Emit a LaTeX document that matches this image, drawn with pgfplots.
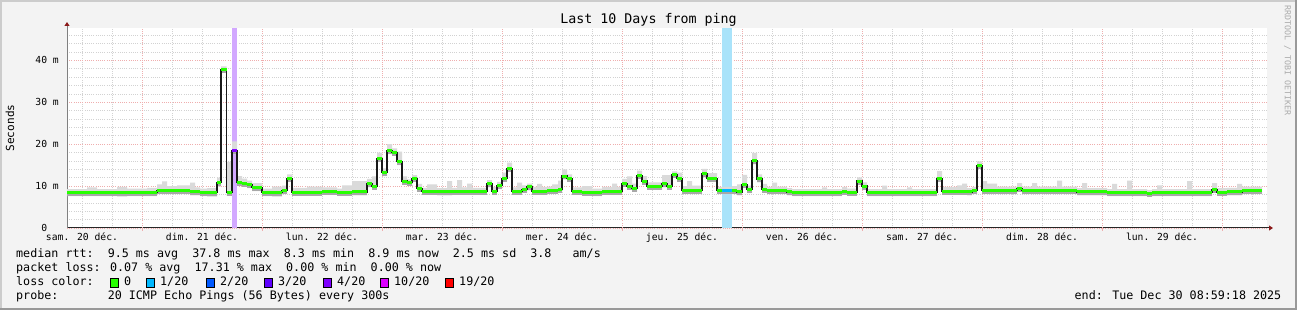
\documentclass[border=0pt]{standalone}
\usepackage{fontspec}
\setmainfont{DejaVu Sans Mono}
\usepackage{pgfplots}
\pgfplotsset{compat=1.18}
\usepackage{pgfplotstable}
\usetikzlibrary{arrows.meta}

\definecolor{backc}{HTML}{F3F3F3}
\definecolor{gridc}{HTML}{D2D2D2}
\definecolor{mgridc}{HTML}{EFAEAE}
\definecolor{smokec}{HTML}{DADADA}
\definecolor{smokedark}{HTML}{A8A8A8}
\definecolor{lgreen}{HTML}{26FF00}
\definecolor{lcyan}{HTML}{00B8FF}
\definecolor{lblue}{HTML}{0059FF}
\definecolor{lpurple}{HTML}{5E00FF}
\definecolor{lviolet}{HTML}{7E00FF}
\definecolor{lmagenta}{HTML}{DD00FF}
\definecolor{lred}{HTML}{FF0000}
\definecolor{bandpurple}{HTML}{D2A8FF}
\definecolor{bandblue}{HTML}{A9E3FA}
\definecolor{arrowc}{HTML}{8B1A1A}
\definecolor{wmark}{HTML}{ABABAB}
\newcommand\fs[1]{\fontsize{#1}{#1}\selectfont}

% median rtt (hours since start, ms)
\pgfplotstableread{
h med
0 8.4
18 9.0
24.6 8.7
26.6 8.4
30 10.8
30.8 37.8
31.9 8.5
33 18.5
34 10.9
35 10.7
36 10.3
37 9.6
39 8.4
43 8.9
44 11.9
45 8.5
51 8.7
54 8.5
57 8.6
60 10.5
61 10.0
62 16.6
63 13.2
64 18.4
65 18.1
66 15.8
67 11.2
68 10.9
69 11.8
70 9.5
71 8.8
74 8.6
77 8.7
84 10.5
85 8.8
86 10.1
87 11.8
88 14.2
89 8.8
91 9.2
92 9.8
93 8.8
96 8.9
98.2 9.2
99 12.4
100 11.9
101 8.8
103 8.5
105 8.4
107 8.8
111 10.7
112 10.0
113 9.5
114 12.5
115 11.2
116 9.9
119 10.5
120 10.0
121 12.8
122 11.9
123 8.9
127 12.9
128 11.9
130 8.9
133 8.9
134 8.6
135 10.3
136 9.1
137 16.0
138 11.7
139 9.2
140 8.9
144 8.6
145 8.4
155 8.8
156 8.5
158 11.2
159 10.0
160 8.4
174 11.9
175 8.8
180 8.6
181 8.9
182 15.0
183 8.9
190 9.4
191 8.9
202 8.6
208 8.4
216 8.2
217 8.4
229 9.2
230 8.5
232 8.6
235 8.9
239 8.9
}\med

% smoke (spread of the 20 pings): h lo hi
\pgfplotstableread{
h lo hi
0 7.6 9.3
4 7.6 9.7
6 7.6 9.3
10 7.5 9.8
12 7.6 9.4
16 7.6 9.6
18 8.1 10.4
19 8.1 11.1
20 8.1 10.0
22 8.1 10.2
24.6 7.8 10.8
25.6 7.8 9.7
26.6 7.6 9.4
28 7.5 9.5
30 9.9 12.0
30.8 37.0 38.6
31.9 7.7 15.8
33 17.6 20.7
34 10.1 12.4
35 9.9 11.8
36 9.5 11.3
37 8.8 10.7
39 7.6 9.4
41 7.5 9.9
43 8.1 10.1
44 11.1 12.8
45 7.7 9.6
48 7.7 9.9
51 7.9 9.7
54 7.7 9.4
55 7.7 10.2
57 7.8 11.2
60 9.7 11.7
61 9.2 12.3
62 15.8 18.0
63 12.4 14.2
64 17.6 20.0
65 17.3 19.0
66 15.0 18.2
67 10.4 12.3
68 10.1 11.6
69 11.0 12.6
70 8.7 10.5
71 8.0 9.6
72 8.0 10.4
74 7.8 9.5
76 7.8 11.2
77 7.9 9.6
78 7.9 11.4
79 7.9 9.7
80 7.9 10.6
81 7.9 9.6
84 9.7 11.4
85 8.0 9.8
86 9.3 11.0
87 11.0 13.2
88 13.4 15.6
89 8.0 9.7
90 8.0 10.8
91 8.4 10.2
92 9.0 10.6
93 8.0 9.8
94 8.0 10.5
95 8.0 9.8
96 8.1 9.9
97 8.1 10.4
98.2 8.4 11.3
99 11.6 14.0
100 11.1 12.8
101 8.0 9.7
103 7.7 10.0
105 7.6 9.4
107 8.0 9.8
109 8.0 10.6
110 8.0 9.8
111 9.9 11.7
112 9.2 12.3
113 8.7 10.6
114 11.7 13.7
115 10.4 12.4
116 9.1 10.9
119 9.7 12.6
120 9.2 12.6
121 12.0 13.5
122 11.1 13.2
123 8.1 10.0
124 8.1 11.2
125 8.1 10.1
127 12.1 14.1
128 11.1 13.1
130 8.1 9.8
133 8.1 10.0
134 7.8 10.4
135 9.5 12.7
136 8.3 10.1
137 15.2 17.9
138 10.9 12.8
139 8.4 10.5
140 8.1 9.8
141 8.1 10.8
142 8.1 9.9
144 7.8 9.5
145 7.6 9.3
151 7.6 9.7
152 7.6 9.3
155 8.0 9.8
156 7.7 9.4
158 10.4 12.1
159 9.2 10.9
160 7.6 9.3
163 7.6 10.1
164 7.6 9.3
168 7.6 9.7
169 7.6 9.3
174 11.1 13.6
175 8.0 9.8
178 8.0 10.2
179 8.0 10.6
180 7.8 9.5
181 8.1 9.8
182 14.2 15.9
183 8.1 11.2
184 8.1 10.6
186 8.1 9.9
190 8.6 10.7
191 8.1 9.9
193 8.1 10.7
194 8.1 9.9
198 8.1 11.3
199 8.1 9.9
202 7.8 9.5
203 7.8 10.7
204 7.8 9.5
208 7.6 9.3
209 7.6 10.5
210 7.6 9.3
212 7.6 11.3
213 7.6 9.3
216 7.4 9.1
217 7.6 9.3
218 7.6 10.2
219 7.6 9.3
224 7.6 11.2
225 7.6 9.3
229 8.4 10.7
230 7.7 9.5
232 7.8 9.6
234 7.8 10.5
235 8.1 9.9
239 8.1 9.9
}\smoke

\begin{document}
\begin{tikzpicture}[x=1pt,y=1pt]
% frame
\fill[backc] (0,0) rectangle (1297,310);
\fill[black!20] (0,308) rectangle (1297,310);
\fill[black!20] (0,0) rectangle (2,310);
\fill[black!40] (1295,0) rectangle (1297,310);
\fill[black!40] (0,0) rectangle (1297,2);

\begin{axis}[
  at={(67pt,82pt)}, anchor=south west,
  scale only axis, width=1200pt, height=200pt,
  xmin=0, xmax=240, ymin=0, ymax=47.73,
  axis background/.style={fill=white},
  axis x line*=bottom, axis y line*=left,
  x axis line style={draw=black!85, line width=1pt, -{Triangle[length=4pt,width=5pt,color=arrowc]}, shorten >=-6pt},
  y axis line style={draw=black!50, line width=1pt, -{Triangle[length=4pt,width=5pt,color=arrowc]}, shorten >=-6pt},
  major tick length=0pt, minor tick length=0pt,
  xtick={3,27,51,75,99,123,147,171,195,219},
  xticklabels={sam. 20 déc., dim. 21 déc., lun. 22 déc., mar. 23 déc., mer. 24 déc., jeu. 25 déc., ven. 26 déc., sam. 27 déc., dim. 28 déc., lun. 29 déc.},
  xmajorgrids=false,
  minor xtick={3,9,21,27,33,45,51,57,69,75,81,93,99,105,117,123,129,141,147,153,165,171,177,189,195,201,213,219,225,237},
  xminorgrids=true,
  extra x ticks={15,39,63,87,111,135,159,183,207,231},
  extra x tick labels={},
  extra x tick style={grid=major, major tick length=3pt, tick align=outside, tick style={draw=mgridc, line width=0.8pt}},
  ytick={0,10,20,30,40},
  yticklabels={0\phantom{~m},10~m,20~m,30~m,40~m},
  ymajorgrids=true,
  minor ytick={2,4,6,8,12,14,16,18,22,24,26,28,32,34,36,38,42,44,46},
  yminorgrids=true,
  major grid style={draw=mgridc, dash pattern=on 1pt off 1.2pt, line width=0.7pt},
  minor grid style={draw=gridc, dash pattern=on 1pt off 1.2pt, line width=0.7pt},
  xticklabel style={font=\fs{9.7}, inner sep=0pt, anchor=north, yshift=-4.5pt},
  yticklabel style={font=\fs{9.7}, inner sep=0pt, anchor=east, xshift=-8pt},
  ylabel={Seconds},
  ylabel style={font=\fs{11.1}, at={(axis description cs:-0.0475,0.5)}, anchor=center, inner sep=0pt},
]
% loss bands
\addplot[draw=none, fill=bandpurple] coordinates {(33,0) (33,47.73) (34,47.73) (34,0)} -- cycle;
\addplot[draw=none, fill=bandblue] coordinates {(131,0) (131,47.73) (133,47.73) (133,0)} -- cycle;
% smoke: invisible lower edge, then the spread stacked on it
\addplot[draw=none, const plot mark left, stack plots=y, forget plot] table[x=h, y=lo] {\smoke};
\addplot[draw=none, fill=smokec, const plot mark left, stack plots=y] table[x=h, y expr=\thisrow{hi}-\thisrow{lo}] {\smoke} \closedcycle;
% darker smoke just below median
\addplot[jump mark left, draw=smokedark, line width=2.5pt, yshift=-2.2pt] table[x=h, y=med] {\med};
% median
\addplot[const plot mark left, draw=black!90, line width=1.2pt] table[x=h, y=med] {\med};
\addplot[jump mark left, draw=lgreen, line width=3pt] table[x=h, y=med] {\med};
\addplot[jump mark left, draw=lviolet, line width=3pt] coordinates {(33,18.5) (34,18.5)};
\addplot[jump mark left, draw=lcyan, line width=3pt] coordinates {(131,8.9) (133,8.9)};
\end{axis}

% title
\node[anchor=base, font=\fs{13.3}, inner sep=0pt] at (648.5,286.5) {Last 10 Days from ping};
% watermark
\node[rotate=-90, anchor=west, font=\fs{8.3}, text=wmark, inner sep=0pt] at (1287.5,305) {RRDTOOL / TOBI OETIKER};

% legend
\node[anchor=base west, font=\fs{11.7}, inner sep=0pt] at (16,52) {median rtt:~~9.5 ms avg~~37.8 ms max~~8.3 ms min~~8.9 ms now~~2.5 ms sd~~3.8~~~am/s};
\node[anchor=base west, font=\fs{11.7}, inner sep=0pt] at (16,38) {packet loss: 0.07 \% avg~~17.31 \% max~~0.00 \% min~~0.00 \% now};
\node[anchor=base west, font=\fs{11.7}, inner sep=0pt] at (16,24) {loss color:};
\node[anchor=base west, font=\fs{11.7}, inner sep=0pt] at (16,10) {probe:~~~~~~~20 ICMP Echo Pings (56 Bytes) every 300s};
\node[anchor=base east, font=\fs{11.7}, inner sep=0pt] at (1281.5,10) {end: Tue Dec 30 08:59:18 2025};

\foreach \t/\c/\l in {124/lgreen/0, 160/lcyan/1\slash 20, 220/lblue/2\slash 20, 278/lpurple/3\slash 20, 337/lviolet/4\slash 20, 394/lmagenta/10\slash 20, 459/lred/19\slash 20}{
  \filldraw[fill=\c, draw=black, line width=0.8pt] (\t-14,23) rectangle (\t-5.5,31.5);
  \node[anchor=base west, font=\fs{11.7}, inner sep=0pt] at (\t,24) {\l};
}

\pgfresetboundingbox
\path[use as bounding box] (0,0) rectangle (1297,310);
\end{tikzpicture}
\end{document}
